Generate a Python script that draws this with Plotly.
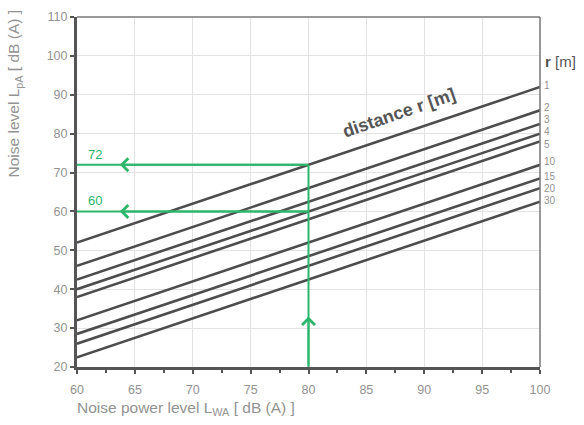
import plotly.graph_objects as go

# Data
distances = ["1", "2", "3", "4", "5", "10", "15", "20", "30"]
lwa_range = [60, 100]
lpa_at_60 = [52, 46, 42.5, 40, 38, 32, 28.5, 26, 22.5]
lpa_at_100 = [92, 86, 82.5, 80, 78, 72, 68.5, 66, 62.5]
example_lwa = 80
example_levels = [72, 60]

x_ticks = [60, 65, 70, 75, 80, 85, 90, 95, 100]
y_ticks = [20, 30, 40, 50, 60, 70, 80, 90, 100, 110]

# label nudges (pixels) to keep the distance labels apart
label_shift = [2, 3, 4, 2, -3, 3, 2, 0, 1]

GRAY_LINE = "#4d4d4d"
GREEN = "#2db56b"
TXT = "#939393"
FONT = "Liberation Sans"

fig = go.Figure()

for d, a, b, s in zip(distances, lpa_at_60, lpa_at_100, label_shift):
    fig.add_trace(go.Scatter(x=lwa_range, y=[a, b], mode="lines",
                             line=dict(color=GRAY_LINE, width=2.6),
                             showlegend=False, hoverinfo="skip"))
    fig.add_annotation(x=lwa_range[1], y=b, text=d, showarrow=False,
                       xanchor="left", yanchor="middle", xshift=2, yshift=s,
                       font=dict(family=FONT, size=10, color=TXT))

# green guide lines
fig.add_trace(go.Scatter(x=[example_lwa, example_lwa], y=[20, example_levels[0]],
                         mode="lines", line=dict(color=GREEN, width=2),
                         showlegend=False, hoverinfo="skip"))
for lv in example_levels:
    fig.add_trace(go.Scatter(x=[lwa_range[0], example_lwa], y=[lv, lv],
                             mode="lines", line=dict(color=GREEN, width=2),
                             showlegend=False, hoverinfo="skip"))
    fig.add_annotation(x=63.7, y=lv, ax=example_lwa, ay=lv, axref="x", ayref="y",
                       xref="x", yref="y", text="", showarrow=True,
                       arrowhead=4, arrowsize=1.25, arrowwidth=2, arrowcolor=GREEN)
    fig.add_annotation(x=60.8, y=lv, text=str(lv), showarrow=False,
                       xanchor="left", yanchor="bottom", yshift=1,
                       font=dict(family=FONT, size=13, color=GREEN))
fig.add_annotation(x=example_lwa, y=33, ax=example_lwa, ay=20, axref="x", ayref="y",
                   xref="x", yref="y", text="", showarrow=True,
                   arrowhead=4, arrowsize=1.25, arrowwidth=2, arrowcolor=GREEN)

# distance label
fig.add_annotation(x=87.8, y=85.3, text="<b>distance r [m]</b>", showarrow=False,
                   textangle=-19, font=dict(family=FONT, size=18, color="#555555"))
fig.add_annotation(x=1.0, y=98.6, xref="paper", yref="y", text="<b>r</b> [m]",
                   showarrow=False, xanchor="left", yanchor="middle", xshift=3,
                   font=dict(family=FONT, size=15, color="#555555"))

# axis titles
fig.add_annotation(x=0, y=0, xref="paper", yref="paper", xanchor="left", yanchor="top",
                   xshift=-2, yshift=-30, showarrow=False,
                   text="Noise power level L<sub>WA</sub> [ dB (A) ]",
                   font=dict(family=FONT, size=15.5, color=TXT))
fig.add_annotation(x=-0.134, y=1.0, xref="paper", yref="paper", xanchor="center", yanchor="top",
                   yshift=9, showarrow=False, textangle=-90,
                   text="Noise level L<sub>pA</sub> [ dB (A) ]",
                   font=dict(family=FONT, size=15.5, color=TXT))

fig.update_layout(
    width=584, height=425,
    margin=dict(l=77, r=44, t=10, b=58),
    plot_bgcolor="white", paper_bgcolor="white",
    font=dict(family=FONT, size=12, color=TXT),
    showlegend=False,
)
fig.update_xaxes(range=[60, 100], tickvals=x_ticks, showgrid=True, gridcolor="#e3e3e3",
                 gridwidth=1, zeroline=False, showline=True, linecolor="#555555",
                 linewidth=3, ticks="outside", ticklen=4, tickwidth=2, tickcolor="#555555",
                 minor=dict(dtick=2.5, ticks="outside", ticklen=3, tickwidth=1.5,
                            tickcolor="#555555", showgrid=False),
                 ticklabelstandoff=5,
                 mirror=False, tickfont=dict(size=12.5, color=TXT))
fig.update_yaxes(range=[20, 110], tickvals=y_ticks, showgrid=True, gridcolor="#e3e3e3",
                 gridwidth=1, zeroline=False, showline=True, linecolor="#555555",
                 linewidth=3, ticks="outside", ticklen=4, tickwidth=2, tickcolor="#555555",
                 tickfont=dict(size=12.5, color=TXT))

# top and right border
fig.add_shape(type="line", xref="paper", yref="paper", x0=0, x1=1, y0=1, y1=1,
              line=dict(color="#777777", width=1.5))
fig.add_shape(type="line", xref="paper", yref="paper", x0=1, x1=1, y0=0, y1=1,
              line=dict(color="#777777", width=1.5))

fig.write_html("out.html")
